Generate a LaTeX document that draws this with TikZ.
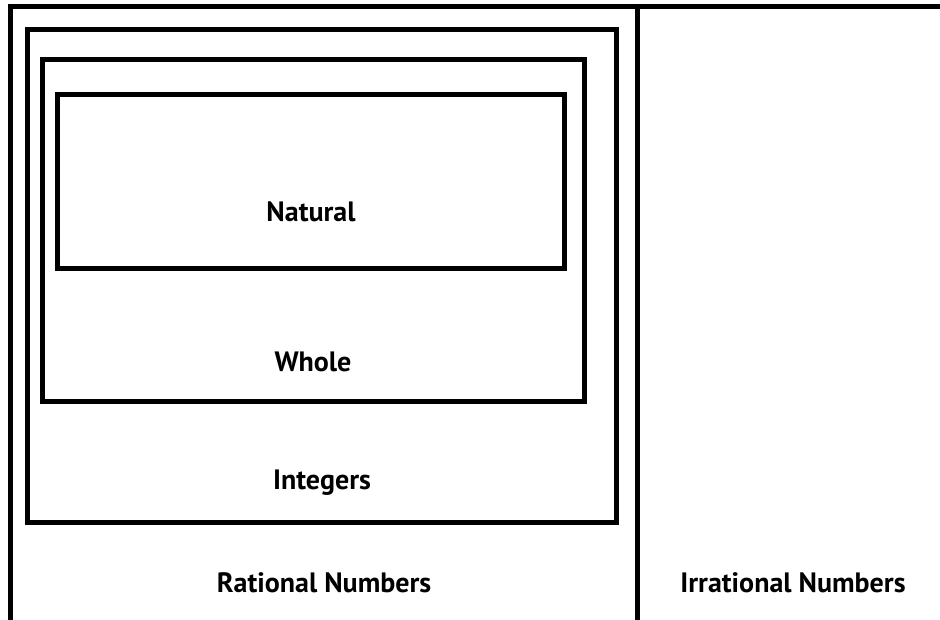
\documentclass[tikz,border=0pt]{standalone}
\usepackage{fontspec}
\setmainfont{PT Sans}
\begin{document}
\begin{tikzpicture}[x=1pt,y=-1pt,
  frame/.style={draw=black,line width=5pt},
  lbl/.style={font=\fontsize{28}{32}\selectfont\bfseries,inner sep=0pt,anchor=center}]
\useasboundingbox (0,0) rectangle (940,619);
\begin{scope}
\clip (0,0) rectangle (940,619);
\draw[frame,line cap=rect] (10,640) -- (10,6.5) -- (960,6.5);
\draw[frame] (637.5,6.5) -- (637.5,640);
\end{scope}
\draw[frame] (27,29.5) rectangle (616,522.5);
\draw[frame] (42,59.5) rectangle (584,401.5);
\draw[frame] (57.5,94) rectangle (564.5,268);
\node[lbl] (nat) at (311,212) {Natural};
\node[lbl] (who) at (313,362) {Whole};
\node[lbl] (int) at (322,483) {Integers};
\node[lbl] (rat) at (324,583) {Rational Numbers};
\node[lbl] (irr) at (793,583) {Irrational Numbers};
\end{tikzpicture}
\end{document}
